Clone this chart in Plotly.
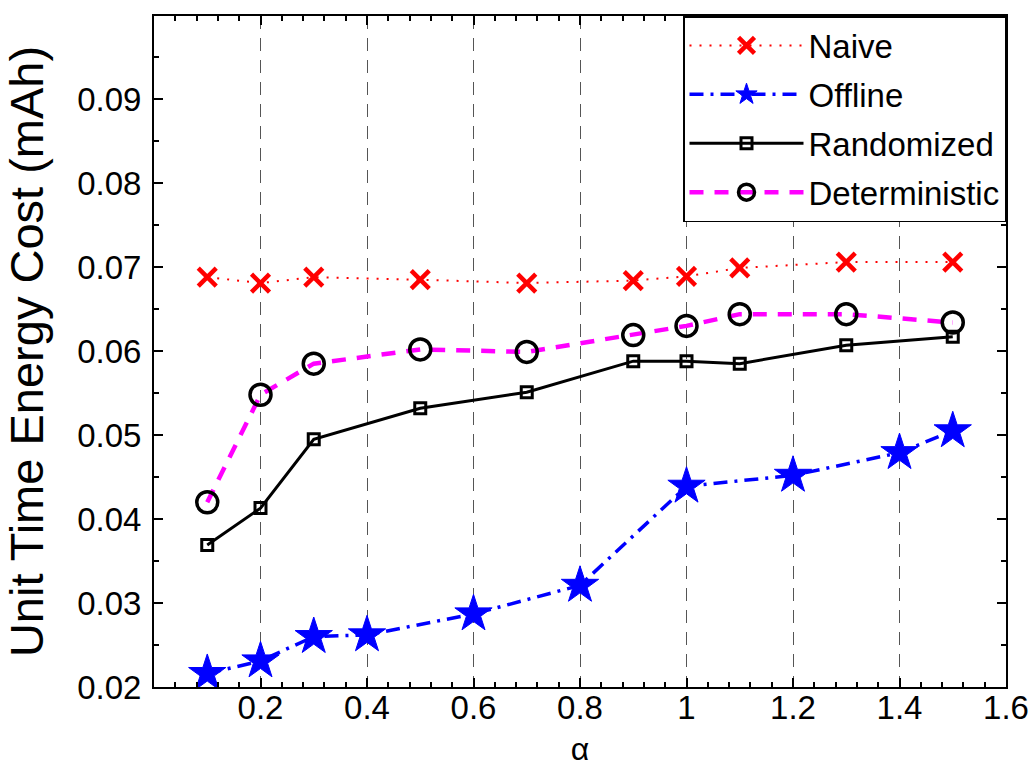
import plotly.graph_objects as go

x_naive = [0.1, 0.2, 0.3, 0.5, 0.7, 0.9, 1.0, 1.1, 1.3, 1.5]
y_naive = [0.0688, 0.0681, 0.0688, 0.0685, 0.0681, 0.0684, 0.0689, 0.0699, 0.0706, 0.0706]

x_offline = [0.1, 0.2, 0.3, 0.4, 0.6, 0.8, 1.0, 1.2, 1.4, 1.5]
y_offline = [0.0216, 0.0231, 0.0260, 0.0262, 0.0287, 0.0321, 0.0439, 0.0452, 0.0479, 0.0505]

x_rand = [0.1, 0.2, 0.3, 0.5, 0.7, 0.9, 1.0, 1.1, 1.3, 1.5]
y_rand = [0.0369, 0.0413, 0.0495, 0.0532, 0.0551, 0.0588, 0.0588, 0.0585, 0.0607, 0.0617]

x_det = [0.1, 0.2, 0.3, 0.5, 0.7, 0.9, 1.0, 1.1, 1.3, 1.5]
y_det = [0.0420, 0.0548, 0.0585, 0.0602, 0.0599, 0.0619, 0.0630, 0.0644, 0.0644, 0.0634]

x_ticks = [0.2, 0.4, 0.6, 0.8, 1.0, 1.2, 1.4, 1.6]
x_ticklabels = ["0.2", "0.4", "0.6", "0.8", "1", "1.2", "1.4", "1.6"]
y_ticks = [0.02, 0.03, 0.04, 0.05, 0.06, 0.07, 0.08, 0.09]
y_ticklabels = ["0.02", "0.03", "0.04", "0.05", "0.06", "0.07", "0.08", "0.09"]

FONT = "Liberation Sans, Arial, Helvetica, sans-serif"

fig = go.Figure()
fig.add_trace(go.Scatter(
    x=x_naive, y=y_naive, name="Naive", mode="lines+markers", legendgroup="a",
    line=dict(color="#ff0000", width=2, dash="2px,8px"),
    marker=dict(symbol="x-thin", size=18, color="#ff0000",
                line=dict(color="#ff0000", width=4.5)),
))
fig.add_trace(go.Scatter(
    x=x_offline, y=y_offline, name="Offline", mode="lines+markers", legendgroup="b",
    line=dict(color="#0000ff", width=3.5, dash="14px,7px,3px,7px"),
    marker=dict(symbol="star", size=28, color="#0000ff",
                line=dict(color="#0000ff", width=1)),
))
fig.add_trace(go.Scatter(
    x=x_rand, y=y_rand, name="Randomized", mode="lines+markers", legendgroup="c",
    line=dict(color="#000000", width=3),
    marker=dict(symbol="square-open", size=11, color="#000000",
                line=dict(color="#000000", width=3)),
))
fig.add_trace(go.Scatter(
    x=x_det, y=y_det, name="Deterministic", mode="lines+markers", legendgroup="d",
    line=dict(color="#ff00ff", width=4.5, dash="14px,11px"),
    marker=dict(symbol="circle-open", size=21, color="#000000",
                line=dict(color="#000000", width=3.5)),
))

axis_common = dict(
    showline=True, linecolor="black", linewidth=2, mirror="ticks",
    ticks="inside", ticklen=9, tickwidth=1.5, tickcolor="black",
    tickfont=dict(family=FONT, size=33, color="black"),
    zeroline=False, automargin=False,
)

fig.update_xaxes(
    range=[0, 1.6], tickvals=x_ticks, ticktext=x_ticklabels,
    showgrid=True, gridcolor="#555555", gridwidth=1.2, griddash="13px,9px",
    ticklabelstandoff=-10,
    title=dict(text="α", font=dict(family=FONT, size=32, color="black"), standoff=28),
    minor=dict(dtick=0.04, tick0=0, ticks="inside", ticklen=5, tickcolor="black", showgrid=False),
    **axis_common,
)
fig.update_yaxes(
    range=[0.02, 0.0999], tickvals=y_ticks, ticktext=y_ticklabels,
    showgrid=False, ticklabelstandoff=4,
    title=dict(text="Unit Time Energy Cost (mAh)", font=dict(family=FONT, size=47, color="black"), standoff=19),
    minor=dict(dtick=0.005, tick0=0.02, ticks="inside", ticklen=5, tickcolor="black", showgrid=False),
    **axis_common,
)

fig.update_layout(
    width=1036, height=767,
    margin=dict(l=154, r=30, t=16, b=80),
    paper_bgcolor="white", plot_bgcolor="white",
    font=dict(family=FONT, color="black"),
    legend=dict(
        x=1.0, y=1.0, xanchor="right", yanchor="top",
        bgcolor="white", bordercolor="black", borderwidth=1.5,
        font=dict(family=FONT, size=33, color="black"),
        itemwidth=114, tracegroupgap=3,
    ),
)

fig.write_html(
    "out.html",
    config={"displayModeBar": False},
    post_script="document.body.style.margin='0';document.body.style.overflow='hidden';",
)
